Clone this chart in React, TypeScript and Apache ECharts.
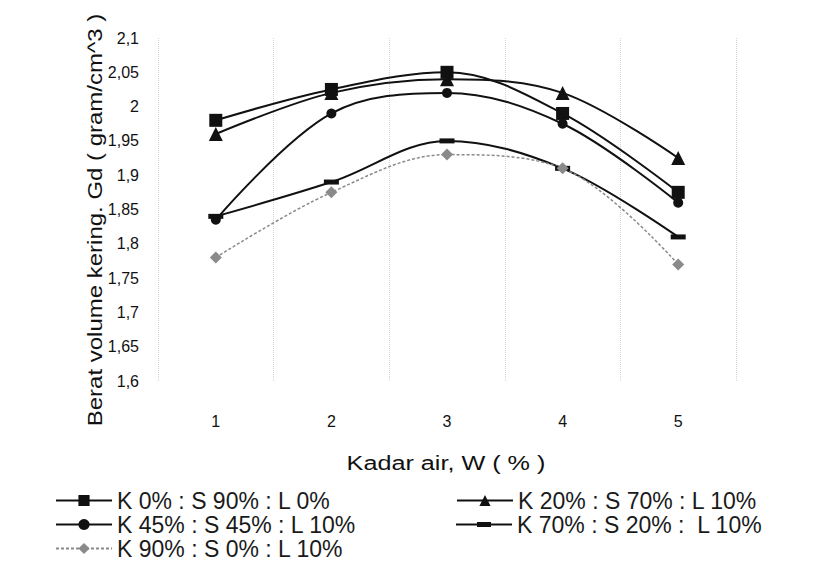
import React, { useEffect, useRef } from "react";
import * as echarts from "echarts";

const categories = ["1", "2", "3", "4", "5"];
const seriesNames = [
  "K 0% : S 90% : L 0%",
  "K 20% : S 70% : L 10%",
  "K 45% : S 45% : L 10%",
  "K 70% : S 20% :  L 10%",
  "K 90% : S 0% : L 10%",
];
const s1 = [1.98, 2.025, 2.05, 1.99, 1.875];
const s2 = [1.96, 2.02, 2.04, 2.02, 1.925];
const s3 = [1.835, 1.99, 2.02, 1.975, 1.86];
const s4 = [1.84, 1.89, 1.95, 1.91, 1.81];
const s5 = [1.78, 1.875, 1.93, 1.91, 1.77];
const yMin = 1.6;
const yMax = 2.1;
const yStep = 0.05;

const FONT = "Liberation Sans, Arial, sans-serif";

export default function App() {
  const ref = useRef<HTMLDivElement>(null);
  useEffect(() => {
    if (!ref.current) return;
    const chart = echarts.init(ref.current, null, { renderer: "svg" });
    const black = "#111";
    const gray = "#8a8a8a";
    const mk = (name: string, data: number[], symbol: string, size: any, color: string, width: number, type: any = "solid") => ({
      name,
      type: "line",
      data,
      smooth: 0.35,
      symbol,
      symbolSize: size,
      showAllSymbol: true,
      lineStyle: { color, width, type },
      itemStyle: { color },
      z: 3,
    });
    const legendPos = [
      { left: 55, center: 501 },
      { left: 456, center: 501 },
      { left: 55, center: 525 },
      { left: 456, center: 525 },
      { left: 55, center: 549 },
    ];
    const dashIcon = "path://M0,4h56v2h-56z M21,2.5h14v5h-14z";
    chart.setOption({
      animation: false,
      backgroundColor: "#fff",
      textStyle: { fontFamily: FONT },
      grid: { left: 158, right: 94, top: 38, bottom: 195, containLabel: false },
      xAxis: {
        type: "category",
        data: categories,
        boundaryGap: true,
        axisLine: { show: false },
        axisTick: { show: false },
        axisLabel: { color: "#111", fontSize: 16, margin: 32, fontFamily: FONT },
        splitLine: { show: true, lineStyle: { color: "#d4d4d4", type: "dotted", width: 1 } },
      },
      yAxis: {
        type: "value",
        min: yMin,
        max: yMax,
        interval: yStep,
        axisLine: { show: false },
        axisTick: { show: false },
        splitLine: { show: false },
        axisLabel: {
          color: "#111",
          fontSize: 16,
          margin: 19,
          fontFamily: FONT,
          formatter: (v: number) => String(Math.round(v * 100) / 100).replace(".", ","),
        },
      },
      legend: seriesNames.map((n, i) => ({
        data: i === 3 ? [{ name: n, icon: dashIcon, itemStyle: { color: black } }] : [n],
        left: legendPos[i].left,
        top: legendPos[i].center - 12,
        padding: 0,
        itemWidth: 56,
        itemHeight: i === 3 ? 10 : 14,
        itemGap: 6,
        textStyle: { fontSize: 23, color: "#1a1a1a", fontFamily: FONT },
        selectedMode: false,
      })),
      graphic: [
        {
          type: "text",
          x: 95,
          y: 220,
          rotation: Math.PI / 2,
          scaleX: 1.2,
          style: {
            text: "Berat volume kering. Gd ( gram/cm^3 )",
            fontSize: 20,
            fontFamily: FONT,
            fill: "#111",
            textAlign: "center",
            textVerticalAlign: "middle",
          },
        },
        {
          type: "text",
          x: 446,
          y: 463,
          scaleX: 1.2,
          style: {
            text: "Kadar air, W ( % )",
            fontSize: 21,
            fontFamily: FONT,
            fill: "#111",
            textAlign: "center",
            textVerticalAlign: "middle",
          },
        },
      ],
      series: [
        mk(seriesNames[0], s1, "rect", 13, black, 2),
        mk(seriesNames[1], s2, "triangle", 14, black, 2),
        mk(seriesNames[2], s3, "circle", 10, black, 2),
        mk(seriesNames[3], s4, "rect", [15, 5], black, 2),
        mk(seriesNames[4], s5, "diamond", 12, gray, 1.5, [3, 2]),
      ],
    });
    return () => chart.dispose();
  }, []);
  return (
    <div
      ref={ref}
      style={{ position: "fixed", left: 0, top: 0, width: 830, height: 576 }}
    />
  );
}
